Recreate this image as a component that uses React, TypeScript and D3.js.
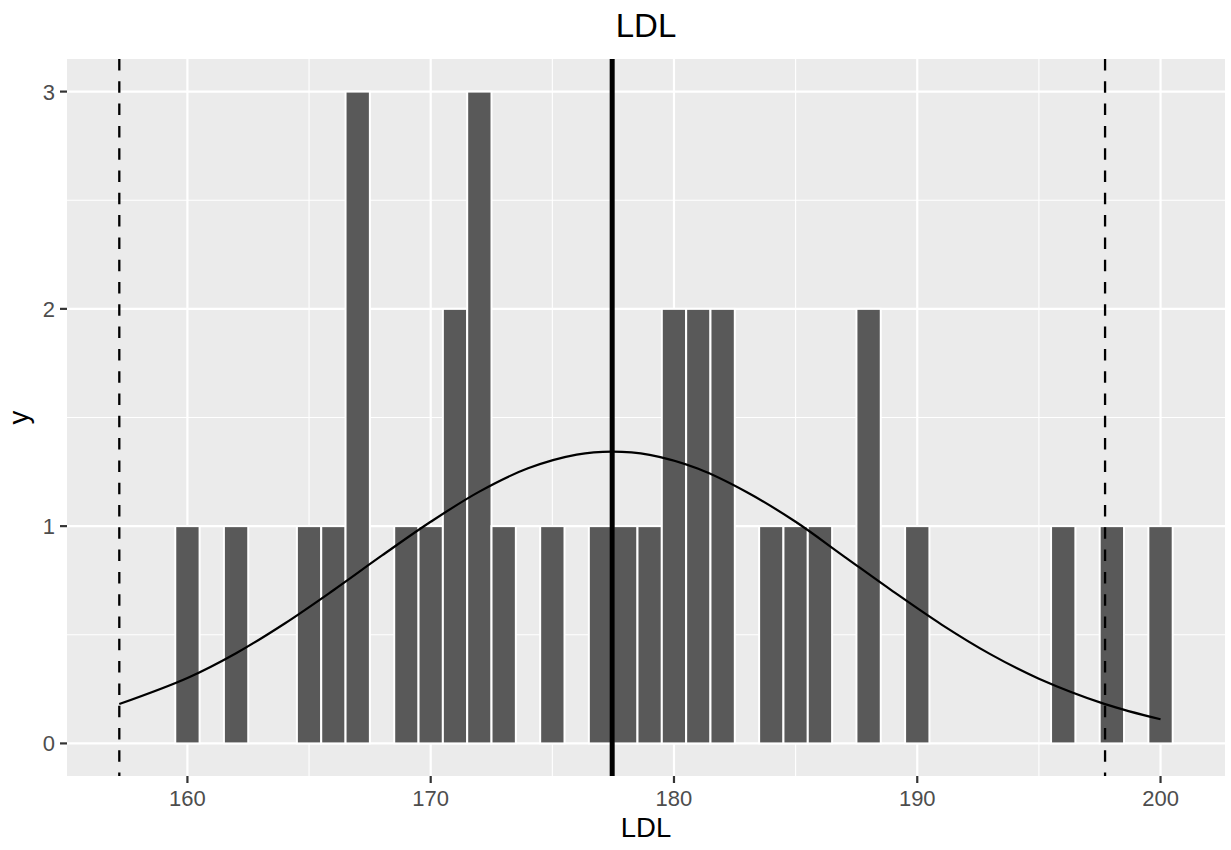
import React from 'react'
import * as d3 from 'd3'

// histogram of LDL, bin width 1, one bar per integer value
const binCenters = [160, 162, 165, 166, 167, 169, 170, 171, 172, 173, 175, 177, 178, 179, 180, 181, 182, 184, 185, 186, 188, 190, 196, 198, 200]
const binCounts = [1, 1, 1, 1, 3, 1, 1, 2, 3, 1, 1, 1, 1, 1, 2, 2, 2, 1, 1, 1, 2, 1, 1, 1, 1]

// normal curve
const curveX = [157.2, 160, 162, 164, 166, 168, 170, 172, 174, 176, 177.46, 179, 181, 183, 185, 187, 189, 191, 193, 195, 197.72, 200]
const curveY = [0.181, 0.301, 0.415, 0.552, 0.705, 0.865, 1.02, 1.159, 1.266, 1.329, 1.343, 1.328, 1.264, 1.156, 1.02, 0.86, 0.7, 0.547, 0.411, 0.298, 0.181, 0.111]

const meanLine = 177.46
const sdLines = [157.2, 197.72]

const xTicks = [160, 170, 180, 190, 200]
const xMinor = [165, 175, 185, 195]
const yTicks = [0, 1, 2, 3]
const yMinor = [0.5, 1.5, 2.5]

const W = 1231
const H = 850
const panel = { left: 67, right: 1225, top: 59, bottom: 776 }
const font = '"Liberation Sans", Arial, Helvetica, sans-serif'

export default function App() {
  const x = d3.scaleLinear().domain([155.05, 202.65]).range([panel.left, panel.right])
  const y = d3.scaleLinear().domain([-0.15, 3.15]).range([panel.bottom, panel.top])

  const pts = curveX.map((v, i) => [v, curveY[i]] as [number, number])
  const line = d3
    .line<[number, number]>()
    .x(d => x(d[0]))
    .y(d => y(d[1]))
    .curve(d3.curveCatmullRom)

  const cx = (panel.left + panel.right) / 2
  const cy = (panel.top + panel.bottom) / 2

  return (
    <svg width={W} height={H} style={{ position: 'absolute', left: 0, top: 0 }} fontFamily={font}>
      <rect x={0} y={0} width={W} height={H} fill="#fff" />
      <rect
        x={panel.left}
        y={panel.top}
        width={panel.right - panel.left}
        height={panel.bottom - panel.top}
        fill="#EBEBEB"
      />
      {/* minor grid */}
      {xMinor.map(t => (
        <line key={'xm' + t} x1={x(t)} x2={x(t)} y1={panel.top} y2={panel.bottom} stroke="#fff" strokeWidth={1.1} />
      ))}
      {yMinor.map(t => (
        <line key={'ym' + t} x1={panel.left} x2={panel.right} y1={y(t)} y2={y(t)} stroke="#fff" strokeWidth={1.1} />
      ))}
      {/* major grid */}
      {xTicks.map(t => (
        <line key={'xg' + t} x1={x(t)} x2={x(t)} y1={panel.top} y2={panel.bottom} stroke="#fff" strokeWidth={2.2} />
      ))}
      {yTicks.map(t => (
        <line key={'yg' + t} x1={panel.left} x2={panel.right} y1={y(t)} y2={y(t)} stroke="#fff" strokeWidth={2.2} />
      ))}

      {/* bars */}
      {binCenters.map((c, i) => (
        <rect
          key={'b' + c}
          x={x(c - 0.5)}
          y={y(binCounts[i])}
          width={x(c + 0.5) - x(c - 0.5)}
          height={y(0) - y(binCounts[i])}
          fill="#595959"
          stroke="#fff"
          strokeWidth={2}
        />
      ))}

      {/* normal curve */}
      <path d={line(pts) || ''} fill="none" stroke="#000" strokeWidth={2.2} />

      {/* mean and +/- 2 sd */}
      <line x1={x(meanLine)} x2={x(meanLine)} y1={panel.top} y2={panel.bottom} stroke="#000" strokeWidth={5} />
      {sdLines.map(v => (
        <line
          key={'sd' + v}
          x1={x(v)}
          x2={x(v)}
          y1={panel.top}
          y2={panel.bottom}
          stroke="#000"
          strokeWidth={2.3}
          strokeDasharray="11.5 10.8"
        />
      ))}

      {/* axes */}
      {xTicks.map(t => (
        <g key={'xt' + t}>
          <line x1={x(t)} x2={x(t)} y1={panel.bottom} y2={panel.bottom + 7} stroke="#333" strokeWidth={2.2} />
          <text x={x(t)} y={806} textAnchor="middle" fontSize={22} fill="#4D4D4D">
            {t}
          </text>
        </g>
      ))}
      {yTicks.map(t => (
        <g key={'yt' + t}>
          <line x1={panel.left - 7} x2={panel.left} y1={y(t)} y2={y(t)} stroke="#333" strokeWidth={2.2} />
          <text x={55} y={y(t) + 8} textAnchor="end" fontSize={22} fill="#4D4D4D">
            {t}
          </text>
        </g>
      ))}

      <text x={cx} y={837} textAnchor="middle" fontSize={27.5} fill="#000">
        LDL
      </text>
      <text x={28} y={cy} textAnchor="middle" fontSize={27.5} fill="#000" transform={`rotate(-90 28 ${cy})`}>
        y
      </text>
      <text x={cx} y={36.5} textAnchor="middle" fontSize={33} fill="#000">
        LDL
      </text>
    </svg>
  )
}
